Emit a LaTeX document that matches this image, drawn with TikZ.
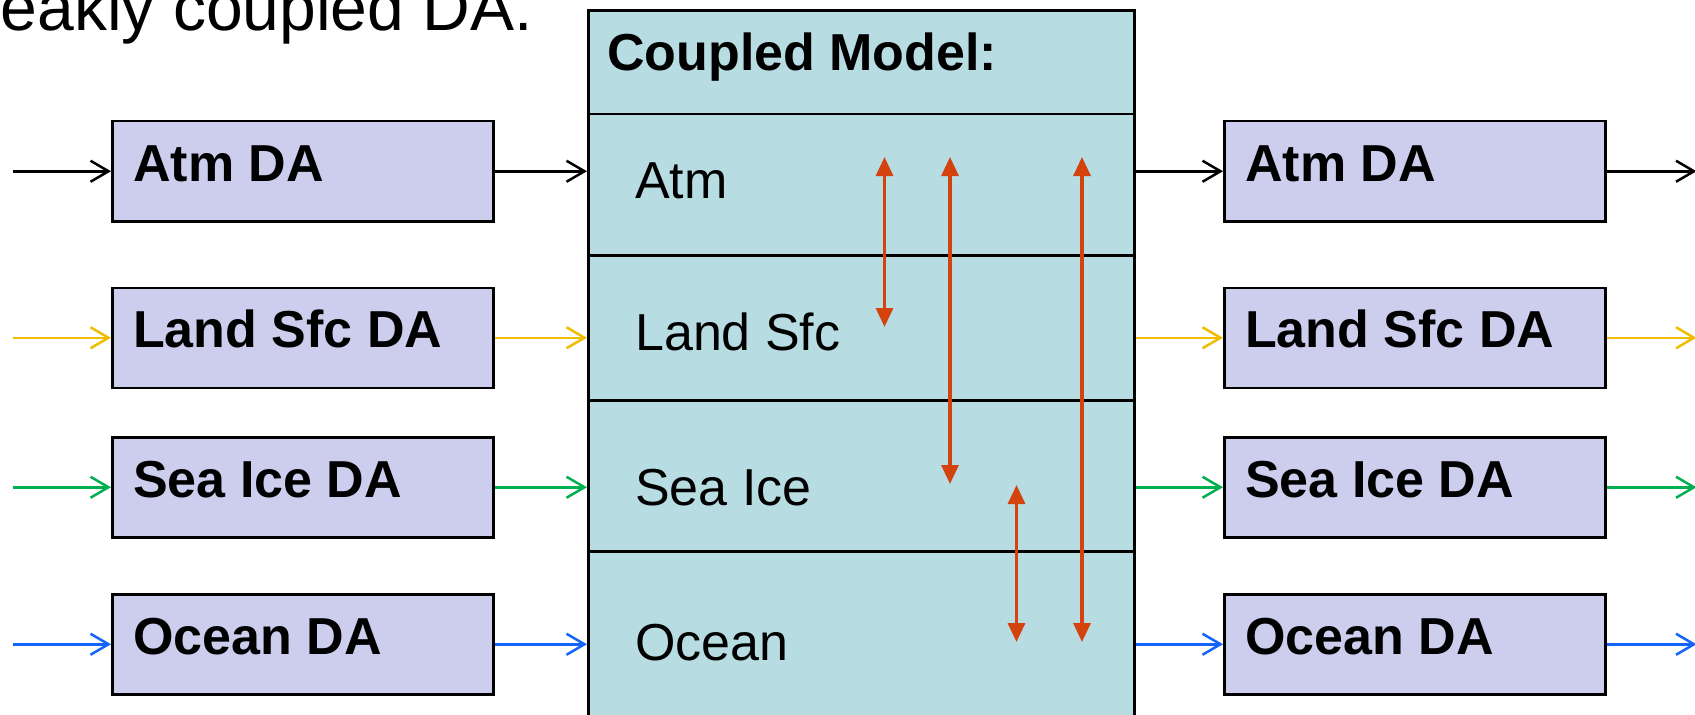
\documentclass[tikz,border=0pt]{standalone}
\usepackage{fontspec}
\setmainfont{Liberation Sans}
\usetikzlibrary{arrows.meta}
\definecolor{lav}{RGB}{205,205,238}
\definecolor{cmteal}{RGB}{183,221,227}
\definecolor{cred}{RGB}{212,66,14}
\definecolor{cyellow}{RGB}{240,190,0}
\definecolor{cgreen}{RGB}{0,176,80}
\definecolor{cblue}{RGB}{20,100,250}
\begin{document}
\begin{tikzpicture}[x=1bp,y=-1bp,
 dabox/.style={draw=black,fill=lav,line width=2.5bp,minimum width=381bp,minimum height=100bp,anchor=north west,inner sep=0pt},
 cmbox/.style={draw=black,fill=cmteal,line width=2.5bp,minimum width=546bp,anchor=north west,inner sep=0pt},
 boldtxt/.style={font=\fontsize{52bp}{60bp}\selectfont\bfseries,anchor=base west,inner sep=0pt},
 regtxt/.style={font=\fontsize{52bp}{60bp}\selectfont,anchor=base west,inner sep=0pt},
 flow/.style={line width=2.5bp,-{Straight Barb[length=18bp,width=21bp]}},
 couple/.style={draw=cred,line width=3.2bp,{Triangle[length=19bp,width=17bp]}-{Triangle[length=19bp,width=17bp]}},
]
\clip (0,0) rectangle (1695,715);
\fill[white] (0,0) rectangle (1695,715);

% title
\node[font=\fontsize{66bp}{74bp}\selectfont,anchor=base east,inner sep=0pt] (title) at (533,31) {Weakly coupled DA.};

% coupled model sections
\node[cmbox,minimum height=103.7bp] (cm0) at (587,9.3) {};
\node[cmbox,minimum height=141bp] (cm1) at (587,113) {};
\node[cmbox,minimum height=145bp] (cm2) at (587,254) {};
\node[cmbox,minimum height=151bp] (cm3) at (587,399) {};
\node[cmbox,minimum height=190bp] (cm4) at (587,550) {};
\node[boldtxt] (cm0t) at (607,70.7) {Coupled Model:};
\node[regtxt] (cm1t) at (635,198) {Atm};
\node[regtxt] (cm2t) at (635,350) {Land Sfc};
\node[regtxt] (cm3t) at (635,505.7) {Sea Ice};
\node[regtxt] (cm4t) at (635,660) {Ocean};

% left DA boxes
\node[dabox] (la) at (111,120) {};
\node[dabox] (ll) at (111,286.5) {};
\node[dabox] (ls) at (111,436) {};
\node[dabox] (lo) at (111,593) {};
% right DA boxes
\node[dabox] (ra) at (1223,120) {};
\node[dabox] (rl) at (1223,286.5) {};
\node[dabox] (rs) at (1223,436) {};
\node[dabox] (ro) at (1223,593) {};

\foreach \b/\t in {la/Atm DA,ll/Land Sfc DA,ls/Sea Ice DA,lo/Ocean DA,ra/Atm DA,rl/Land Sfc DA,rs/Sea Ice DA,ro/Ocean DA}{
  \node[boldtxt] (\b t) at ([xshift=22bp,yshift=-61bp]\b.north west) {\t};
}

% flow arrows: free ends
\foreach \l/\r in {la/ra,ll/rl,ls/rs,lo/ro}{
  \coordinate (\l s) at ([xshift=-98bp]\l.west);
  \coordinate (\r e) at ([xshift=90bp]\r.east);
}

\foreach \l/\r/\c in {la/ra/black,ll/rl/cyellow,ls/rs/cgreen,lo/ro/cblue}{
  \draw[flow,draw=\c] (\l s) -- (\l.west);
  \draw[flow,draw=\c] (\l.east) -- (\l.east -| cm1.west);
  \draw[flow,draw=\c] (\r.west -| cm1.east) -- (\r.west);
  \draw[flow,draw=\c] (\r.east) -- (\r e);
}

% coupling arrows
\coordinate (r1a) at (884.5,157);
\coordinate (r1b) at (884.5,327);
\coordinate (r2a) at (950,157);
\coordinate (r2b) at (950,484);
\coordinate (r3a) at (1082,157);
\coordinate (r3b) at (1082,642);
\coordinate (r4a) at (1016.5,485);
\coordinate (r4b) at (1016.5,642);
\draw[couple] (r1a) -- (r1b);
\draw[couple] (r2a) -- (r2b);
\draw[couple] (r3a) -- (r3b);
\draw[couple] (r4a) -- (r4b);
\end{tikzpicture}
\end{document}
